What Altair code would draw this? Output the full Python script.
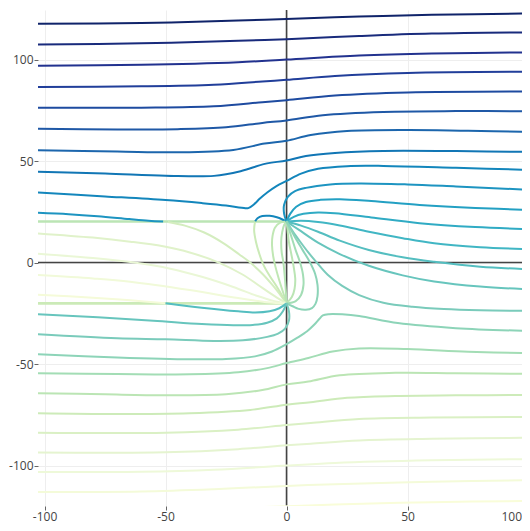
import altair as alt
import pandas as pd

# ---- digitized streamline curves: lists of (x, y) ----
# upper far-field lines
L120 = [(-103, 117.6), (-60, 118.0), (-20, 119.2), (0, 120.0), (30, 121.2), (60, 122.0), (101, 122.7)]
L110 = [(-103, 107.4), (-60, 108.0), (-20, 109.2), (0, 110.0), (30, 111.6), (60, 112.8), (101, 113.4)]
L100 = [(-103, 96.9), (-60, 97.4), (-20, 98.7), (0, 100.0), (30, 102.0), (60, 103.0), (101, 103.5)]
L90 = [(-103, 86.5), (-60, 86.8), (-30, 87.6), (-10, 89.2), (0, 90.0), (20, 91.9), (50, 93.4), (101, 94.0)]
L80 = [(-103, 76.2), (-60, 76.3), (-30, 77.0), (-10, 79.0), (0, 80.0), (20, 82.3), (50, 83.8), (101, 84.3)]
L70 = [(-103, 65.9), (-70, 65.6), (-45, 65.7), (-25, 66.6), (-10, 68.8), (0, 70.0), (15, 72.6), (40, 74.2), (70, 74.6), (101, 74.5)]
L60 = [(-103, 55.3), (-70, 54.7), (-45, 54.3), (-22, 55.5), (-9, 58.6), (0, 60.0), (10, 62.8), (25, 64.8), (50, 65.3), (75, 64.9), (101, 64.4)]
L50 = [(-103, 44.8), (-75, 43.9), (-50, 42.8), (-30, 42.7), (-19, 45.0), (-9, 48.6), (0, 50.3), (8, 52.5), (20, 54.0), (40, 55.0), (70, 54.9), (101, 54.5)]
L40 = [(-103, 34.5), (-75, 32.6), (-50, 30.8), (-35, 29.3), (-25, 28.1), (-18.5, 27.0), (-15.8, 26.8), (-13.5, 28.6),
       (-11, 31.5), (-8, 34.5), (-4, 37.8), (0, 40.2), (6, 43.8), (13, 46.2), (25, 47.5), (40, 47.6), (70, 46.7), (101, 45.6)]
L30A = [(-103, 24.5), (-90, 23.8), (-78, 22.8), (-65, 21.4), (-57, 20.6), (-51, 20.2)]
HOOK = [(-13, 20.2), (-12, 21.8), (-10, 22.9), (-7, 23.0), (-4, 22.3), (-1.5, 21.1), (0, 20.2)]

# lines fanning out of the point (0, 20) to the right
C = [(0, 20.2), (-1.0, 24), (-1.0, 28.5), (0.6, 32.5), (3.5, 35.2), (8, 36.8), (18, 38.5), (30, 39.0), (50, 38.5), (70, 37.5), (101, 35.8)]
D = [(0, 20.2), (1.5, 24), (4, 27.5), (8, 29.8), (14, 30.9), (22, 31.2), (35, 30.3), (55, 28.4), (78, 26.9), (101, 25.9)]
E = [(0, 20.2), (3, 22.5), (7, 24.0), (13, 24.7), (20, 24.3), (35, 22.2), (55, 19.4), (78, 17.5), (101, 16.4)]
F = [(0, 20.2), (6, 20.6), (13, 20.0), (22, 18.3), (34, 15.2), (48, 12.0), (61, 9.5), (80, 7.6), (101, 6.5)]
G = [(0, 20.2), (6, 18.2), (13, 15.2), (22, 10.8), (34, 6.2), (48, 2.6), (61, 0.4), (80, -2.0), (101, -3.3)]
H = [(0, 20.2), (5, 16.2), (13, 9.8), (22, 4.2), (34, -1.6), (48, -6.3), (61, -9.3), (80, -11.8), (101, -13.2)]
I = [(0, 20.2), (2.5, 15.5), (5.5, 10.5), (9, 5), (12.5, 0), (17, -6), (23, -11.5), (30, -16), (40, -19.8),
     (52, -21.8), (65, -22.9), (80, -23.5), (101, -23.8)]

# loops between (0, 20) and (0, -20), right side
R1 = [(0, 20.2), (0.4, 16), (1.0, 10), (2.0, 4), (3.0, -2.5), (3.6, -8), (3.3, -13), (2.2, -17), (0, -20.1)]
R2 = [(0, 20.2), (1.0, 16.5), (2.2, 12), (3.8, 6), (5.6, 0), (6.8, -6), (7.0, -11), (6.0, -16), (3.8, -19), (0, -20.1)]
R3 = [(0, 20.2), (1.5, 17), (3.5, 12.5), (6.5, 6.5), (9.5, 0.5), (11.8, -5.5), (12.8, -11), (12.8, -16.5), (12.0, -20.2),
      (10.5, -22.4), (8, -23.2), (5, -22.8), (2.5, -21.5), (0, -20.1)]

# strip lines (x < 0, between y = -20 and 20)
L30B = [(-49, 20.0), (-42, 18.2), (-34, 14.8), (-26, 9.5), (-19.5, 4), (-15, 0), (-10, -5.5), (-5.5, -11.5), (-2.2, -16.5), (0, -20.1)]
LF3 = [(-13, 20.2), (-13.4, 16), (-12.6, 10), (-11.3, 4.5), (-9.6, -1), (-7, -6.5), (-4, -11.9), (-1.6, -16.8), (0, -20.1)]
LF2 = [(0, 20.2), (-2.8, 19.6), (-4.8, 17.2), (-5.8, 13), (-6.0, 8.5), (-5.5, 3), (-4.6, -2), (-3.2, -8), (-1.6, -14), (0, -20.1)]
LF1 = [(0, 20.2), (-1.0, 18.5), (-1.8, 15), (-2.2, 10.5), (-2.0, 5), (-1.3, 0), (-0.8, -6), (-0.4, -12), (0, -20.1)]
HP = [(-103, 14.4), (-80, 12.3), (-64.6, 10.3), (-51, 8.0), (-40, 5.0), (-28, 0), (-18, -6), (-10, -12.5), (-4, -17.3), (0, -20.1)]
GP = [(-103, 4.4), (-80, 2.2), (-63, 0), (-48, -3), (-35, -7), (-22, -12), (-12, -16.5), (-5, -19), (0, -20.1)]
FP = [(-103, -6.1), (-80, -7.8), (-64.6, -9.4), (-40, -13.5), (-20, -17.5), (-8, -19.5), (0, -20.1)]
EP_PALE = [(-103, -15.8), (-80, -17.3), (-64.6, -18.6), (-50, -20.0)]

# lower-left lines running into (0, -20)
EP_TEAL = [(-50, -20.0), (-35, -22.2), (-20, -24.0), (-13, -24.6), (-7, -24.0), (-3, -22.5), (0, -20.1)]
DP = [(-103, -25.5), (-78, -26.9), (-55, -28.6), (-35, -30.3), (-22, -30.9), (-14, -30.7), (-8, -29.6), (-4, -27.5), (-1.5, -24), (0, -20.1)]
CP = [(-103, -35.3), (-70, -37.3), (-50, -37.8), (-30, -38.6), (-18, -38.3), (-8, -36.6), (-3.5, -35.0), (-0.6, -32.5),
      (1.0, -28.5), (1.0, -24), (0, -20.1)]

# lower far-field lines
J = [(-103, -45.2), (-70, -46.7), (-40, -47.6), (-25, -47.5), (-13, -46.2), (-6, -43.8), (0, -40.2), (4.5, -37), (8.5, -33.8),
     (11.5, -30.5), (13.5, -27.8), (15, -26.0), (17.5, -25.4), (23, -25.5), (30, -26.3), (46, -29.8), (70, -32.3), (101, -33.7)]
K = [(-103, -54.5), (-70, -54.9), (-40, -55.0), (-20, -54.0), (-8, -52.0), (0, -49.5), (9, -47.0), (19, -43.8), (30, -42.3),
     (50, -42.6), (75, -43.9), (101, -44.7)]
M60 = [(-103, -64.3), (-75, -64.9), (-50, -65.3), (-25, -64.8), (-10, -62.8), (0, -60.0), (9, -58.6), (22, -55.5), (45, -54.3), (70, -54.5), (101, -54.8)]
M70 = [(-103, -74.2), (-70, -74.6), (-40, -74.2), (-15, -72.6), (0, -70.0), (10, -68.8), (25, -66.6), (45, -65.7), (70, -65.4), (101, -65.2)]
M80 = [(-103, -83.8), (-50, -83.8), (-20, -82.3), (0, -80.0), (10, -79.0), (30, -77.0), (60, -76.3), (101, -76.0)]
M90 = [(-103, -93.5), (-50, -93.4), (-20, -91.9), (0, -90.0), (10, -89.2), (30, -87.6), (60, -86.8), (101, -86.3)]
M100 = [(-103, -103.2), (-60, -103.0), (-30, -102.0), (0, -100.0), (20, -98.7), (60, -97.4), (101, -96.8)]
M110 = [(-103, -113.0), (-60, -112.7), (-30, -111.6), (0, -110.0), (20, -109.2), (60, -108.0), (101, -107.2)]
M120 = [(-103, -122.5), (-60, -121.9), (-30, -121.2), (0, -120.0), (20, -119.2), (60, -118.0), (101, -117.4)]

# bright horizontal lines along y = 20 and y = -20 (x < 0)
CUT_UP = [(-103, 20.2), (0, 20.2)]
CUT_LO = [(-103, -20.1), (0, -20.1)]

# (name, contour level, points)
CURVES = [
    ("L120", 120, L120), ("L110", 110, L110), ("L100", 100, L100), ("L90", 90, L90), ("L80", 80, L80),
    ("L70", 70, L70), ("L60", 60, L60), ("L50", 50, L50), ("L40", 40, L40), ("L30A", 30, L30A), ("HOOK", 40, HOOK),
    ("L30B", -75, L30B), ("LF3", -68, LF3), ("LF2", -62, LF2), ("LF1", -58, LF1),
    ("HP", -85, HP), ("GP", -95, GP), ("FP", -105, FP), ("EP_PALE", -112, EP_PALE),
    ("C", 30, C), ("D", 20, D), ("E", 10, E), ("F", 0, F), ("G", -10, G), ("H", -20, H), ("I", -30, I),
    ("R1", -60, R1), ("R2", -50, R2), ("R3", -40, R3),
    ("EP_TEAL", -10, EP_TEAL), ("DP", -20, DP), ("CP", -30, CP),
    ("J", -40, J), ("K", -50, K), ("M60", -60, M60), ("M70", -70, M70), ("M80", -80, M80),
    ("M90", -90, M90), ("M100", -100, M100), ("M110", -110, M110), ("M120", -120, M120),
]
CUTS = [("CUT_UP", -60, CUT_UP), ("CUT_LO", -68, CUT_LO)]

TICKS = [-100, -50, 0, 50, 100]
X_DOMAIN = [-102.7, 100.6]
Y_DOMAIN = [-119.9, 124.4]

# YlGnBu stops (pale -> dark) spread over the level range
COLOR_DOMAIN = [-130, -97.5, -65, -32.5, 0, 32.5, 65, 97.5, 130]
COLOR_RANGE = ["#ffffd9", "#edf8d9", "#c7e9b4", "#7fcdbb", "#41b6c4", "#1d91c0", "#225ea8", "#253494", "#081d58"]


def to_rows(curves):
    rows = []
    for name, lvl, pts in curves:
        for i, (x, y) in enumerate(pts):
            rows.append({"curve": name, "level": lvl, "i": i, "x": x, "y": y})
    return pd.DataFrame(rows)


df = to_rows(CURVES)
cut_df = to_rows(CUTS)

LABEL_EXPR = "datum.value < 0 ? '-' + abs(datum.value) : '' + datum.value"

axis_x = alt.Axis(
    values=TICKS, grid=True, gridColor="#eeeeee", gridWidth=1, domain=False,
    ticks=True, tickSize=4, tickColor="#666666", tickWidth=1,
    labelFont="Open Sans", labelFontSize=12, labelColor="#444444",
    labelPadding=1, labelFlush=3, labelExpr=LABEL_EXPR, title=None,
    labelOffset=alt.condition("datum.value == 100", alt.value(-7), alt.value(0)),
)
axis_y = alt.Axis(
    values=TICKS, grid=True, gridColor="#eeeeee", gridWidth=1, domain=False,
    ticks=True, tickSize=4, tickColor="#666666", tickWidth=1,
    labelFont="Open Sans", labelFontSize=12, labelColor="#444444",
    labelPadding=1, labelFlush=False, labelExpr=LABEL_EXPR, title=None,
)

xs = alt.Scale(domain=X_DOMAIN, nice=False, zero=False)
ys = alt.Scale(domain=Y_DOMAIN, nice=False, zero=False)
cs = alt.Scale(domain=COLOR_DOMAIN, range=COLOR_RANGE)

zero_df = pd.DataFrame({"v": [0]})
zero_x = alt.Chart(zero_df).mark_rule(color="#444444", strokeWidth=1.6).encode(
    x=alt.X("v:Q", scale=xs, axis=axis_x))
zero_y = alt.Chart(zero_df).mark_rule(color="#444444", strokeWidth=1.6).encode(
    y=alt.Y("v:Q", scale=ys, axis=axis_y))

cuts = alt.Chart(cut_df).mark_line(strokeWidth=2.6, clip=True).encode(
    x=alt.X("x:Q", scale=xs, axis=axis_x),
    y=alt.Y("y:Q", scale=ys, axis=axis_y),
    detail="curve:N",
    order="i:Q",
    color=alt.Color("level:Q", scale=cs, legend=None),
)

lines = alt.Chart(df).mark_line(strokeWidth=2, interpolate="catmull-rom", clip=True).encode(
    x=alt.X("x:Q", scale=xs, axis=axis_x),
    y=alt.Y("y:Q", scale=ys, axis=axis_y),
    detail="curve:N",
    order="i:Q",
    color=alt.Color("level:Q", scale=cs, legend=None),
)

# the plot area runs past the right edge of the page, as in the reference
chart = alt.layer(zero_x, zero_y, cuts, lines).properties(
    width=492, height=496,
    autosize=alt.AutoSizeParams(type="none"),
    padding={"left": 30, "top": 2, "right": -8, "bottom": 17},
    background="white",
).configure_view(strokeWidth=0)

chart.save("out.html", embed_options={"renderer": "svg", "actions": False})
